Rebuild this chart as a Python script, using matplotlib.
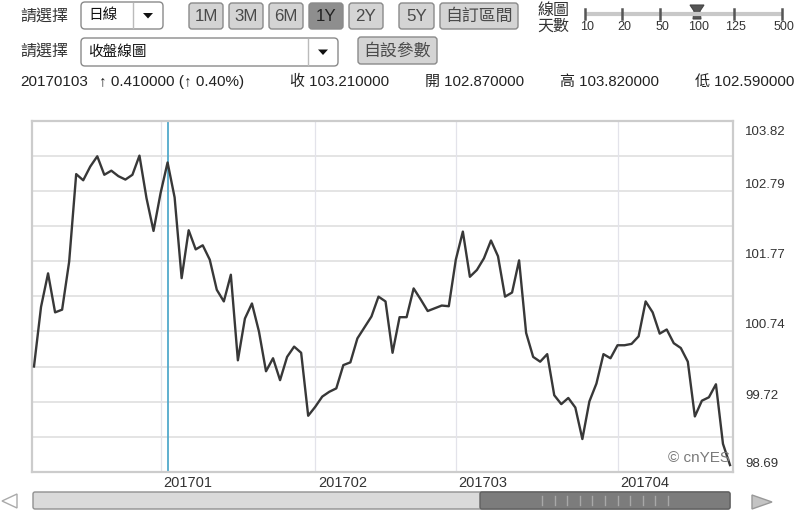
import numpy as np
import pandas as pd
import matplotlib
matplotlib.use("Agg")
import matplotlib.pyplot as plt
from matplotlib.patches import FancyBboxPatch, Polygon

plt.rcParams['font.family'] = ['Liberation Sans', 'Noto Sans CJK TC', 'DejaVu Sans']

# daily closes, 100 weekdays (Dec 7 2016 - Apr 25 2017)
dates = pd.bdate_range('2016-12-07', '2017-04-25')
close = [100.23, 101.10, 101.59, 101.02, 101.06, 101.76, 103.04, 102.95, 103.15, 103.30,
         103.03, 103.09, 103.01, 102.96, 103.03, 103.31, 102.69, 102.21, 102.76, 103.21,
         102.70, 101.52, 102.22, 101.94, 102.00, 101.79, 101.35, 101.18, 101.57, 100.32,
         100.93, 101.15, 100.74, 100.16, 100.35, 100.03, 100.37, 100.52, 100.43, 99.51,
         99.64, 99.79, 99.86, 99.91, 100.25, 100.29, 100.64, 100.80, 100.96, 101.25,
         101.18, 100.43, 100.95, 100.95, 101.37, 101.21, 101.04, 101.08, 101.12, 101.11,
         101.79, 102.20, 101.54, 101.64, 101.81, 102.07, 101.84, 101.25, 101.31, 101.78,
         100.72, 100.37, 100.30, 100.41, 99.81, 99.68, 99.77, 99.63, 99.17, 99.72,
         99.98, 100.41, 100.35, 100.54, 100.54, 100.56, 100.67, 101.18, 101.02, 100.71,
         100.77, 100.57, 100.50, 100.30, 99.50, 99.73, 99.78, 99.97, 99.10, 98.79]
hover_date = '2017-01-03'
y_lo, y_hi = 98.69, 103.82

period_buttons = ['1M', '3M', '6M', '1Y', '2Y', '5Y', '自訂區間']
active_period = '1Y'
day_options = ['10', '20', '50', '100', '125', '500']
active_days = '100'
quote_date = '20170103'
quote_change = '↑ 0.410000 (↑ 0.40%)'
quote_fields = ['收 103.210000', '開 102.870000', '高 103.820000', '低 102.590000']

W, H = 800, 513
fig = plt.figure(figsize=(W / 100, H / 100), dpi=100)
fig.patch.set_facecolor('white')

# pixel-space overlay for the page widgets
ui = fig.add_axes([0, 0, 1, 1], zorder=0)
ui.set_xlim(0, W)
ui.set_ylim(H, 0)
ui.axis('off')


def box(x0, x1, y0, y1, fc, ec='#9a9a9a', r=3, lw=1.0):
    ui.add_patch(FancyBboxPatch((x0, y0), x1 - x0, y1 - y0,
                                boxstyle='round,pad=0,rounding_size=%d' % r,
                                fc=fc, ec=ec, lw=lw))


def dropdown(x0, x1, y0, y1, sep, label):
    box(x0, x1, y0, y1, 'white', ec='#8a8a8a', r=4)
    ui.plot([sep, sep], [y0 + 1, y1 - 1], color='#bbbbbb', lw=1)
    cx, cy = (sep + x1) / 2, (y0 + y1) / 2
    ui.add_patch(Polygon([(cx - 5, cy - 2.5), (cx + 5, cy - 2.5), (cx, cy + 3)],
                         closed=True, fc='#111111', ec='none'))
    ui.text(x0 + 7, cy, label, fontsize=10.5, va='center', color='#111111')


# row 1
ui.text(20, 16, '請選擇', fontsize=11.5, va='center', color='#333333')
dropdown(81, 163, 2, 29, 133, '日線')
btn_x = [(189, 223), (229, 263), (269, 303), (309, 343), (349, 383), (399, 434), (440, 518)]
for (x0, x1), lab in zip(btn_x, period_buttons):
    on = lab == active_period
    box(x0, x1, 3, 29, '#8e8e8e' if on else '#d4d4d4', ec='#8a8a8a')
    ui.text((x0 + x1) / 2, 16.5, lab, fontsize=12.2, ha='center', va='center',
            color='#222222' if on else '#4a4a4a')

ui.text(537, 10, '線圖', fontsize=11.5, va='center', color='#333333')
ui.text(537, 26, '天數', fontsize=11.5, va='center', color='#333333')
ui.plot([585, 782], [14, 14], color='#c8c8c8', lw=3, solid_capstyle='butt')
tick_x = [585, 622, 660, 697, 734, 782]
for tx, lab in zip(tick_x, day_options):
    if lab == active_days:
        ui.add_patch(Polygon([(tx - 7, 5), (tx + 7, 5), (tx + 3, 11), (tx + 4, 19),
                              (tx - 4, 19), (tx - 3, 11)], closed=True,
                             fc='#555555', ec='#444444', lw=0.8))
    else:
        ui.plot([tx, tx], [9, 19], color='#555555', lw=1.8)
    ui.text(tx + 2, 27.5, lab, fontsize=9, ha='center', va='center', color='#333333')

# row 2
ui.text(20, 51, '請選擇', fontsize=11.5, va='center', color='#333333')
dropdown(81, 338, 38, 66, 308, '收盤線圖')
box(358, 437, 37, 64, '#d4d4d4', ec='#8a8a8a')
ui.text(397.5, 50.5, '自設參數', fontsize=12.2, ha='center', va='center', color='#4a4a4a')

# row 3 quote line
ui.text(20, 82, quote_date, fontsize=11, va='center', color='#222222')
ui.text(99, 82, quote_change, fontsize=11, va='center', color='#222222')
for qx, t in zip([290, 425, 560, 695], quote_fields):
    ui.text(qx, 82, t, fontsize=10.8, va='center', color='#222222')

# bottom scrollbar
box(33, 730, 492, 509, '#dadada', ec='#909090', r=2)
box(480, 730, 492, 509, '#7c7c7c', ec='#606060', r=2)
for gx in np.arange(542, 670, 12.6):
    ui.plot([gx, gx], [496, 505], color='#a8a8a8', lw=1)
ui.add_patch(Polygon([(2, 501), (17, 494), (17, 508)], closed=True, fc='white', ec='#aaaaaa'))
ui.add_patch(Polygon([(772, 502), (752, 495), (752, 509)], closed=True, fc='#c4c4c4', ec='#999999'))

# price chart
left, right, top, bottom = 31.7, 733.3, 120.7, 471.9
ax = fig.add_axes([left / W, 1 - bottom / H, (right - left) / W, (bottom - top) / H], zorder=1)
x = np.arange(len(close))
step = (730 - 34) / (len(close) - 1)
ax.set_xlim(-(34 - left) / step, len(close) - 1 + (right - 730) / step)
ax.set_ylim(y_lo, y_hi)
ax.set_xticks([])
ax.set_yticks([])
for s in ax.spines.values():
    s.set_color('#cccccc')
    s.set_linewidth(1.6)

for g in np.linspace(y_lo, y_hi, 11)[1:-1]:
    ax.axhline(g, color='#e2e2e2', lw=1.3, zorder=1)

months = pd.Series(dates.strftime('%Y%m'))
starts = months.index[months != months.shift()][1:]
for i in starts:
    ax.axvline(i, color='#e3e3ea', lw=0.9, zorder=1)
    ax.annotate(months[i], xy=(i, 0), xycoords=('data', 'axes fraction'),
                xytext=(2, -11), textcoords='offset points', va='baseline',
                fontsize=10.5, color='#333333', annotation_clip=False)

hover_idx = list(dates).index(pd.Timestamp(hover_date))
ax.axvline(hover_idx, color='#52a9cb', lw=1.3, zorder=2)
ax.plot(x, close, color='#383838', lw=1.7, zorder=3)

labels = np.linspace(y_lo, y_hi, 6)
for k, v in enumerate(labels):
    if k == len(labels) - 1:
        off = -14.3
    elif k == 0:
        off = 4.9
    else:
        off = 3
    ax.annotate('%.2f' % v, xy=(1, v), xycoords=('axes fraction', 'data'),
                xytext=(8.4, off * 0.72), textcoords='offset points', va='baseline',
                fontsize=9.5, color='#333333', annotation_clip=False)

fig.text(730 / W, 1 - 458 / H, '© cnYES', fontsize=11, ha='right', va='center',
         color='#7a7a7a', zorder=5)

fig.savefig('out.png', dpi=100)
